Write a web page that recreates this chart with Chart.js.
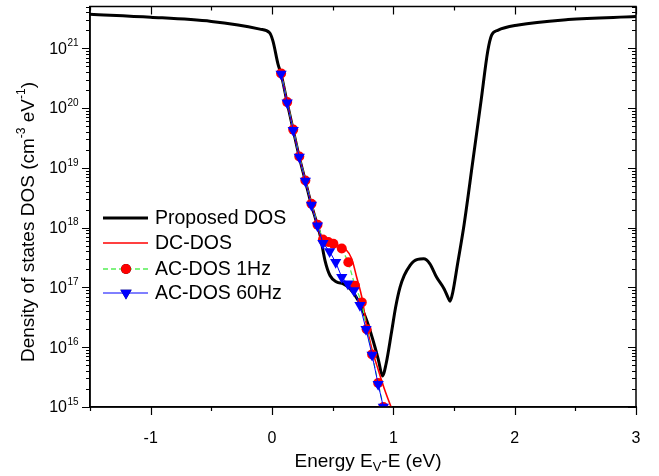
<!DOCTYPE html>
<html>
<head>
<meta charset="utf-8">
<script src="https://cdn.jsdelivr.net/npm/chart.js@4/dist/chart.umd.min.js"></script>
<style>
    html, body { margin: 0; padding: 0; background: #fff; }
</style>
</head>
<body>
<canvas id="dosChart" width="659" height="476"></canvas>
<script>
// Values; DOS stored as log10(cm^-3 eV^-1)
const energyProposed = [-1.5, -1.0, -0.5, -0.28, -0.1, -0.02, 0.008, 0.05, 0.075, 0.125, 0.175, 0.225, 0.275, 0.325,
    0.36, 0.396, 0.437, 0.478, 0.533, 0.588, 0.643, 0.711, 0.78, 0.849, 0.88, 0.91, 0.94, 0.985, 1.02, 1.055, 1.09,
    1.138, 1.17, 1.2, 1.25, 1.3, 1.357, 1.42, 1.453, 1.467, 1.49, 1.53, 1.583, 1.653, 1.723, 1.778, 1.81, 1.86,
    2.03, 2.44, 3.0];
const logProposed = [21.57, 21.52, 21.45, 21.39, 21.32, 21.26, 21.12, 20.73, 20.57, 20.09, 19.63, 19.18, 18.78, 18.38,
    18.14, 17.88, 17.45, 17.2, 17.09, 17.06, 16.98, 16.78, 16.45, 16.0, 15.76, 15.52, 15.72, 16.25, 16.68, 17.0, 17.2,
    17.37, 17.44, 17.47, 17.48, 17.4, 17.17, 16.97, 16.82, 16.77, 16.92, 17.4, 18.05, 19.08, 20.12, 20.95, 21.22, 21.3,
    21.39, 21.48, 21.53];

const energyDC = [0.075, 0.125, 0.175, 0.225, 0.275, 0.325, 0.375, 0.4, 0.45, 0.503, 0.55, 0.602, 0.657, 0.698,
    0.74, 0.78, 0.822, 0.876, 0.93, 0.985];
const logDC = [20.58, 20.1, 19.64, 19.19, 18.79, 18.4, 18.04, 17.86, 17.77, 17.73, 17.7, 17.65, 17.48, 17.17,
    16.84, 16.36, 15.98, 15.62, 15.28, 14.98];

const energyAC1 = [0.075, 0.125, 0.175, 0.225, 0.275, 0.325, 0.375, 0.42, 0.464, 0.506, 0.575, 0.629, 0.684,
    0.74, 0.78, 0.825, 0.875, 0.918];
const logAC1 = [20.58, 20.1, 19.64, 19.19, 18.79, 18.4, 18.05, 17.8, 17.76, 17.73, 17.65, 17.42, 17.03,
    16.75, 16.3, 15.88, 15.4, 15.0];

const energyAC60 = [0.075, 0.125, 0.175, 0.225, 0.275, 0.325, 0.375, 0.42, 0.475, 0.525, 0.575, 0.625, 0.675,
    0.725, 0.775, 0.825, 0.875, 0.918];
const logAC60 = [20.57, 20.09, 19.63, 19.18, 18.78, 18.38, 18.03, 17.74, 17.6, 17.42, 17.17, 17.06, 16.95,
    16.7, 16.3, 15.87, 15.38, 15.0];

const seriesLabels = ['Proposed DOS', 'DC-DOS', 'AC-DOS 1Hz', 'AC-DOS 60Hz'];
const xTicks = [-1, 0, 1, 2, 3];
const yDecades = [15, 16, 17, 18, 19, 20, 21];

const FONT = '"Liberation Sans", Arial, sans-serif';

function toPoints(xs, logs) {
    return xs.map((x, i) => ({ x: x, y: Math.pow(10, logs[i]) }));
}

// Ticks, tick labels with superscripts, axis titles and legend
const decorPlugin = {
    id: 'decor',
    afterDraw(chart) {
        const ctx = chart.ctx;
        const area = chart.chartArea;
        const xs = chart.scales.x;
        const ys = chart.scales.y;
        ctx.save();
        ctx.strokeStyle = '#000';
        ctx.lineWidth = 1.5;
        ctx.strokeRect(area.left, area.top, area.right - area.left, area.bottom - area.top);

        // x ticks (pointing down on both axes)
        ctx.lineWidth = 1.2;
        for (let v = -1.5; v <= 3.001; v += 0.5) {
            const px = Math.round(xs.getPixelForValue(v)) + 0.5;
            const len = Math.abs(v - Math.round(v)) < 1e-6 ? 8 : 4;
            ctx.beginPath();
            ctx.moveTo(px, area.bottom); ctx.lineTo(px, area.bottom + len);
            ctx.moveTo(px, area.top); ctx.lineTo(px, area.top + len);
            ctx.stroke();
        }
        // y ticks (pointing left on both axes)
        for (let n = 15; n <= 21; n++) {
            for (let k = 1; k <= 9; k++) {
                const val = k * Math.pow(10, n);
                if (val > ys.max) continue;
                const py = Math.round(ys.getPixelForValue(val)) + 0.5;
                const len = k === 1 ? 8 : 4;
                ctx.beginPath();
                ctx.moveTo(area.left, py); ctx.lineTo(area.left - len, py);
                ctx.moveTo(area.right, py); ctx.lineTo(area.right - len, py);
                ctx.stroke();
            }
        }

        ctx.fillStyle = '#000';
        // y tick labels 10^n
        yDecades.forEach(n => {
            const py = ys.getPixelForValue(Math.pow(10, n));
            ctx.font = '16px ' + FONT;
            ctx.textAlign = 'right';
            ctx.textBaseline = 'middle';
            ctx.fillText('10', 67, py + 1);
            ctx.font = '10px ' + FONT;
            ctx.textAlign = 'left';
            ctx.fillText(String(n), 67.5, py - 5);
        });

        // x title: Energy E_V-E (eV)
        const xParts = [['Energy E', 19, 0], ['V', 13, 5], ['-E (eV)', 19, 0]];
        drawParts(ctx, xParts, (area.left + area.right) / 2 + 5, 462);

        // y title, rotated
        ctx.save();
        ctx.translate(29, 222);
        ctx.rotate(-Math.PI / 2);
        const yParts = [['Density of states DOS (cm', 19, 0], ['-3', 12, -7], [' eV', 19, 0], ['-1', 12, -7], [')', 19, 0]];
        drawParts(ctx, yParts, 0, 0);
        ctx.restore();

        // legend
        const rows = [218, 243, 269, 293];
        chart.data.datasets.forEach((ds, i) => {
            const y = rows[i];
            ctx.save();
            ctx.strokeStyle = ds.borderColor;
            ctx.lineWidth = ds.borderWidth;
            ctx.setLineDash(ds.borderDash || []);
            ctx.beginPath();
            ctx.moveTo(103, y); ctx.lineTo(148, y);
            ctx.stroke();
            ctx.restore();
            if (ds.pointRadius > 0) {
                Chart.helpers.drawPoint(ctx, {
                    pointStyle: ds.pointStyle,
                    rotation: ds.pointRotation || 0,
                    radius: ds.pointRadius,
                    borderWidth: 0
                }, 126, y);
                ctx.fillStyle = ds.pointBackgroundColor;
                ctx.fill();
            }
            ctx.fillStyle = '#000';
            ctx.font = '19.5px ' + FONT;
            ctx.textAlign = 'left';
            ctx.textBaseline = 'middle';
            ctx.fillText(ds.label, 155, y + 1);
        });
        ctx.restore();
    }
};

function drawParts(ctx, parts, cx, cy) {
    let total = 0;
    parts.forEach(p => { ctx.font = p[1] + 'px ' + FONT; total += ctx.measureText(p[0]).width; });
    let x = cx - total / 2;
    ctx.textAlign = 'left';
    ctx.textBaseline = 'middle';
    parts.forEach(p => {
        ctx.font = p[1] + 'px ' + FONT;
        ctx.fillText(p[0], x, cy + p[2]);
        x += ctx.measureText(p[0]).width;
    });
}

const ctx = document.getElementById('dosChart').getContext('2d');
new Chart(ctx, {
    type: 'line',
    data: {
        datasets: [{
            label: seriesLabels[0],
            data: toPoints(energyProposed, logProposed),
            borderColor: '#000000',
            borderWidth: 3,
            pointRadius: 0,
            cubicInterpolationMode: 'monotone',
            order: 4
        }, {
            label: seriesLabels[1],
            data: toPoints(energyDC, logDC),
            borderColor: '#ff0000',
            borderWidth: 1.6,
            pointRadius: 0,
            cubicInterpolationMode: 'monotone',
            order: 3
        }, {
            label: seriesLabels[2],
            data: toPoints(energyAC1, logAC1),
            borderColor: '#55ee55',
            borderWidth: 1.3,
            borderDash: [5, 3],
            pointStyle: 'circle',
            pointRadius: 5,
            pointBackgroundColor: '#ff0000',
            pointBorderWidth: 0,
            tension: 0,
            order: 2
        }, {
            label: seriesLabels[3],
            data: toPoints(energyAC60, logAC60),
            borderColor: '#0000ff',
            borderWidth: 1,
            pointStyle: 'triangle',
            pointRotation: 180,
            pointRadius: 6.5,
            pointBackgroundColor: '#0000ff',
            pointBorderWidth: 0,
            tension: 0,
            order: 1
        }]
    },
    options: {
        responsive: false,
        animation: false,
        layout: { padding: { left: 0, right: 23, top: 5, bottom: 0 } },
        plugins: {
            legend: { display: false },
            tooltip: { enabled: false }
        },
        scales: {
            x: {
                type: 'linear',
                min: -1.5,
                max: 3,
                grid: { display: false },
                border: { color: '#000', width: 1.5 },
                ticks: {
                    stepSize: 0.5,
                    padding: 14,
                    color: '#000',
                    font: { family: FONT, size: 16 },
                    maxRotation: 0,
                    autoSkip: false,
                    callback: v => xTicks.includes(v) ? String(v) : ''
                },
                afterFit: s => { s.height = 69; }
            },
            y: {
                type: 'logarithmic',
                min: 1e15,
                max: 5e21,
                grid: { display: false },
                border: { color: '#000', width: 1.5 },
                ticks: { display: false },
                afterFit: s => { s.width = 90; }
            }
        }
    },
    plugins: [decorPlugin]
});
</script>
</body>
</html>
